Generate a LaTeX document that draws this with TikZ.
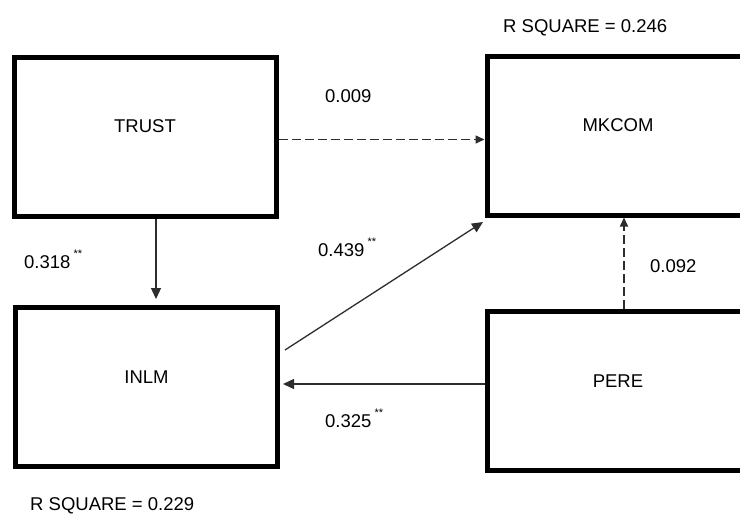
\documentclass[tikz,border=0pt]{standalone}
\usepackage{fontspec}
\setmainfont{Liberation Sans}
\usetikzlibrary{arrows.meta,positioning}
\definecolor{linkgray}{RGB}{45,45,45}
\newcommand{\sigstars}{\,\raisebox{11pt}{\fontsize{11}{11}\selectfont **}}

\begin{document}
\begin{tikzpicture}[x=1pt,y=-1pt,font=\fontsize{18.5}{22}\selectfont,
  >={Triangle[length=11pt,width=10pt]},
  varbox/.style={draw,line width=5pt,minimum width=262pt,minimum height=159pt,inner sep=0pt},
  boxtext/.style={yshift=10pt},
  link/.style={draw=linkgray,line width=1.3pt,->},
  dashlink/.style={link,line width=1.5pt,dash pattern=on 9pt off 4pt,>={Triangle[length=9pt,width=8pt]}},
  coef/.style={anchor=base west,inner sep=0pt}]
\useasboundingbox (0,0) rectangle (740,515);
\clip (0,0) rectangle (740,515);
\node[varbox,label={[boxtext]center:TRUST}] (trust) at (145,136.5) {};
\node[varbox,label={[boxtext]center:MKCOM}] (mkcom) at (618,135.5) {};
\node[varbox,label={[boxtext]center:INLM}] (inlm) at (146.5,387) {};
\node[varbox,label={[boxtext]center:PERE}] (pere) at (618,391) {};
\draw[link,shorten >=6pt] ([xshift=11pt]trust.south) -- ([xshift=11pt]trust.south |- inlm.north);
\draw[dashlink] ([yshift=-3pt]trust.east) -- ([yshift=-3pt]trust.east -| mkcom.west);
\draw[link] ([xshift=5pt,yshift=37pt]inlm.east) -- ([xshift=-1.5pt,yshift=-4.5pt]mkcom.south west);
\draw[link,shorten >=3pt] ([yshift=7pt]pere.west) -- ([yshift=7pt]pere.west -| inlm.east);
\draw[dashlink] ([xshift=6pt]pere.north) -- ([xshift=6pt]pere.north |- mkcom.south);
\node[coef] (c-tm) at (325,102) {0.009};
\node[coef] (c-ti) at (24,268) {0.318\sigstars};
\node[coef] (c-im) at (318,256) {0.439\sigstars};
\node[coef] (c-pi) at (325,427) {0.325\sigstars};
\node[coef] (c-pm) at (650,272) {0.092};
\node[coef] (r-mkcom) at (503,32) {R SQUARE = 0.246};
\node[coef] (r-inlm) at (30,510) {R SQUARE = 0.229};
\end{tikzpicture}
\end{document}
